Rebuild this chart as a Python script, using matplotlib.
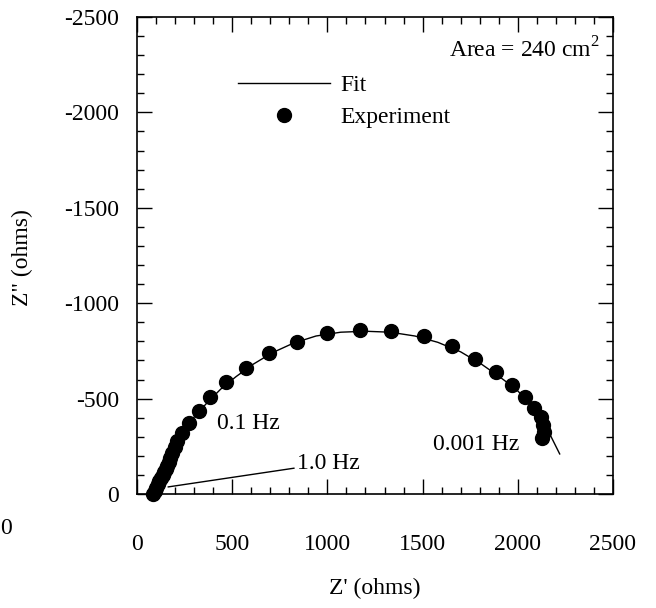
import numpy as np
import matplotlib
matplotlib.use('Agg')
import matplotlib.pyplot as plt
from matplotlib.ticker import MultipleLocator

plt.rcParams['font.family'] = ['Liberation Serif', 'DejaVu Serif']
plt.rcParams['mathtext.fontset'] = 'custom'
plt.rcParams['mathtext.rm'] = 'Liberation Serif'

# experiment points (Z', Z'') in ohms
exp_zr = [86, 94, 102, 110, 118, 126, 134, 142, 150, 158, 166, 175, 186, 198, 212,
          236, 273, 326, 383, 467, 572, 693, 840, 998, 1171, 1334, 1507, 1652,
          1775, 1886, 1972, 2038, 2085, 2120, 2132, 2135, 2127]
exp_zi = [0, -17, -33, -50, -66, -82, -98, -114, -130, -146, -166, -190, -215, -245, -280,
          -320, -372, -435, -508, -587, -660, -739, -797, -844, -860, -854, -828, -776,
          -708, -639, -573, -511, -453, -406, -362, -325, -296]

# fit curve
fit_zr = [86, 105, 125, 145, 165, 190, 220, 260, 310, 370, 440, 520, 610, 710, 820, 940,
          1070, 1200, 1330, 1460, 1580, 1700, 1810, 1910, 1990, 2050, 2095, 2130, 2160, 2190, 2220]
fit_zi = [0, -40, -85, -125, -175, -235, -300, -355, -415, -480, -550, -615, -680, -740, -790, -828,
          -848, -853, -848, -828, -795, -745, -680, -610, -550, -490, -435, -385, -330, -270, -210]

x_ticks = [0, 500, 1000, 1500, 2000, 2500]
y_ticks = [0, -500, -1000, -1500, -2000, -2500]

fig = plt.figure(figsize=(6.56, 6.08), dpi=100)
ax = fig.add_axes([137/656, 1-494/608, 476/656, 477/608])

ax.plot(fit_zr, fit_zi, '-', color='black', linewidth=1.0, label='Fit')
ax.plot(exp_zr, exp_zi, 'o', color='black', markersize=10, linestyle='none',
        label='Experiment', clip_on=False)

ax.set_xlim(0, 2500)
ax.set_ylim(0, -2500)
ax.set_xticks(x_ticks)
ax.set_xticklabels([str(v) for v in x_ticks])
ax.set_yticks(y_ticks)
ax.set_yticklabels([str(v) for v in y_ticks])
ax.xaxis.set_minor_locator(MultipleLocator(100))
ax.yaxis.set_minor_locator(MultipleLocator(100))
ax.tick_params(which='both', direction='in', top=True, right=True, width=1.0, labelsize=17)
ax.tick_params(which='major', length=11)
ax.tick_params(which='minor', length=5)
ax.tick_params(axis='x', pad=29)
ax.tick_params(axis='y', pad=13)
for s in ax.spines.values():
    s.set_linewidth(1.2)

ax.set_xlabel("Z' (ohms)", fontsize=17)
ax.xaxis.set_label_coords(0.5, -0.176)
ax.set_ylabel('Z" (ohms)', fontsize=17)
ax.yaxis.set_label_coords(-0.218, 0.495)

ax.text(0.973, 0.931, r'Area = 240 cm$^2$', transform=ax.transAxes, ha='right', va='center', fontsize=17)

leg = ax.legend(loc='upper left', bbox_to_anchor=(0.212, 0.879), frameon=False, fontsize=17,
                handlelength=3.9, handletextpad=0.45, labelspacing=0.45, borderpad=0, borderaxespad=0)

ax.text(420, -372, '0.1 Hz', ha='left', va='center', fontsize=17)
ax.annotate('1.0 Hz', xy=(163, -37), xytext=(840, -162), ha='left', va='center', fontsize=17,
            arrowprops=dict(arrowstyle='-', color='black', lw=1.0, shrinkA=0, shrinkB=0))
ax.text(1555, -262, '0.001 Hz', ha='left', va='center', fontsize=17)

fig.text(6/656, 1-528/608, '0', ha='center', va='center', fontsize=17)

fig.savefig('out.png', dpi=100)
